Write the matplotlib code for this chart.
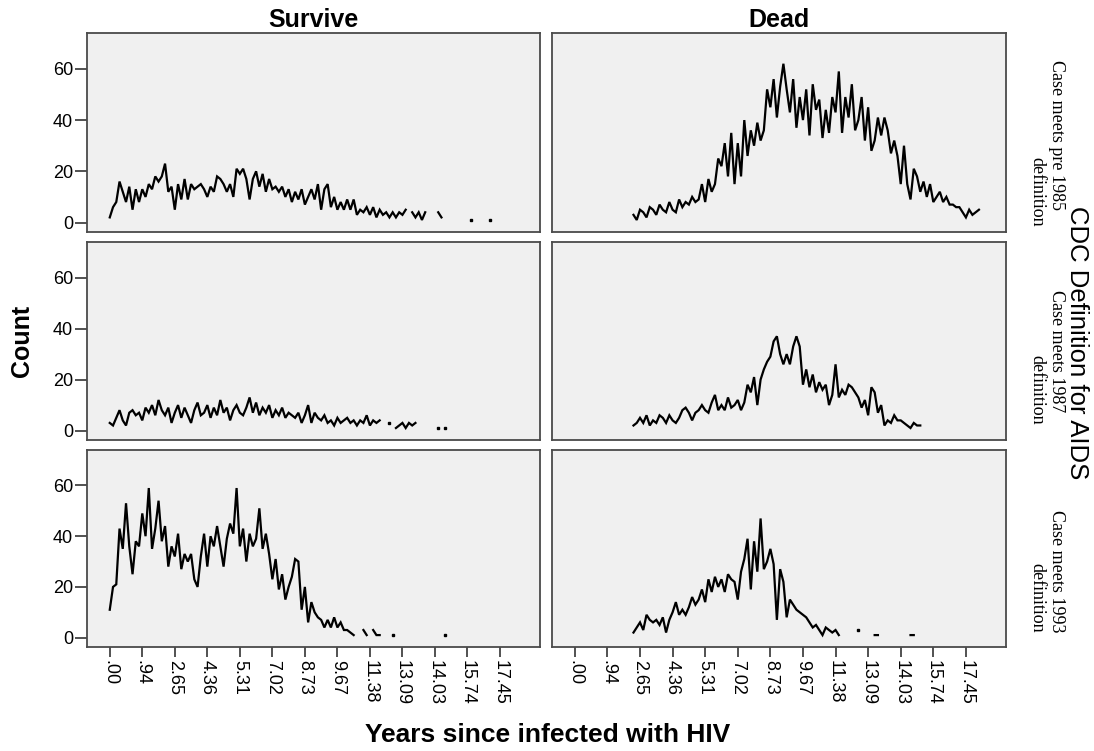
import numpy as np
import matplotlib
matplotlib.use("Agg")
import matplotlib.pyplot as plt

plt.rcParams['font.family'] = ['Liberation Sans', 'DejaVu Sans']

# Counts per category of "Years since infected with HIV" (category index), None = no cases
N = None

survive_1985_start = 0
survive_1985 = [2, 6, 8, 16, 12, 8, 14, 5, 13, 8,
                13, 10, 15, 13, 18, 16, 18, 23, 12, 14,
                5, 15, 9, 17, 9, 15, 13, 14, 15, 13,
                10, 14, 12, 18, 17, 15, 12, 15, 10, 21,
                19, 21, 17, 9, 17, 20, 14, 19, 12, 17,
                13, 14, 12, 14, 10, 13, 8, 12, 9, 13,
                7, 10, 13, 9, 15, 5, 13, 15, 6, 10,
                5, 8, 5, 9, 5, 9, 3, 5, 4, 6,
                3, 6, 2, 5, 3, 4, 2, 4, 2, 4,
                3, 5, N, 4, 2, 4, 1, 4, N, N,
                N, 4, 2, N, N, N, N, N, N, N,
                N, 1, N, N, N, N, N, 1]

dead_1985_start = 18
dead_1985 = [3, 1, 5, 4, 2, 6, 5, 3, 7, 5,
             4, 8, 5, 4, 9, 6, 8, 7, 10, 8,
             9, 15, 8, 17, 12, 15, 25, 22, 31, 18,
             35, 15, 31, 18, 40, 26, 36, 30, 39, 32,
             36, 52, 45, 56, 41, 53, 62, 52, 43, 56,
             37, 49, 40, 52, 34, 54, 44, 48, 33, 44,
             35, 49, 43, 59, 35, 49, 41, 54, 36, 40,
             49, 32, 45, 28, 32, 41, 34, 41, 36, 27,
             32, 26, 15, 30, 15, 9, 21, 18, 12, 16,
             10, 15, 8, 10, 12, 8, 10, 7, 7, 6,
             6, 4, 2, 5, 3, 4, 5]

survive_1987_start = 0
survive_1987 = [3, 2, 5, 8, 4, 2, 7, 8, 6, 7,
                4, 9, 7, 10, 6, 12, 8, 6, 9, 3,
                7, 10, 5, 9, 6, 3, 8, 11, 6, 7,
                10, 5, 9, 6, 12, 7, 9, 4, 8, 10,
                7, 6, 9, 13, 7, 11, 6, 9, 7, 10,
                5, 8, 6, 9, 5, 7, 6, 5, 7, 3,
                6, 10, 3, 7, 5, 4, 6, 3, 4, 2,
                5, 3, 4, 5, 3, 4, 2, 4, 3, 6,
                2, 4, 3, 4, N, N, 3, N, 1, 2,
                3, 1, 3, 2, 3, N, N, N, N, N,
                N, 1, N, 1]

dead_1987_start = 18
dead_1987 = [2, 3, 5, 3, 6, 2, 4, 3, 6, 5,
             3, 6, 4, 3, 5, 8, 9, 7, 4, 7,
             8, 10, 8, 7, 11, 14, 8, 10, 8, 13,
             9, 10, 12, 8, 11, 18, 15, 21, 10, 20,
             24, 27, 29, 35, 37, 30, 26, 30, 26, 33,
             37, 33, 18, 24, 17, 22, 15, 19, 16, 18,
             10, 14, 26, 13, 16, 14, 18, 17, 15, 13,
             9, 12, 6, 17, 15, 7, 10, 2, 4, 3,
             6, 4, 4, 3, 2, 1, 3, 2, 2]

survive_1993_start = 0
survive_1993 = [11, 20, 21, 43, 35, 53, 36, 25, 38, 36,
                49, 40, 59, 35, 43, 54, 38, 44, 28, 36,
                32, 41, 27, 33, 30, 33, 23, 20, 32, 41,
                28, 40, 36, 44, 36, 28, 39, 45, 41, 59,
                36, 43, 30, 41, 36, 39, 51, 35, 41, 33,
                23, 31, 19, 25, 15, 20, 24, 31, 30, 11,
                20, 6, 14, 10, 8, 7, 4, 7, 4, 8,
                4, 6, 3, 3, 2, 1, N, N, 3, 1,
                N, 3, 1, 1, N, N, N, 1, N, N,
                N, N, N, N, N, N, N, N, N, N,
                N, N, N, 1]

dead_1993_start = 18
dead_1993 = [2, 4, 6, 3, 9, 7, 6, 7, 5, 8,
             2, 7, 10, 14, 9, 11, 9, 12, 16, 13,
             15, 19, 14, 23, 18, 24, 20, 23, 18, 25,
             23, 22, 15, 26, 31, 39, 19, 38, 26, 47,
             27, 30, 35, 29, 7, 27, 22, 8, 15, 13,
             11, 10, 9, 8, 6, 4, 5, 3, 1, 4,
             3, 2, 3, 1, N, N, N, N, N, 3,
             N, N, N, N, 1, 1, N, N, N, N,
             N, N, N, N, N, 1, 1]

tick_labels = [".00", ".94", "2.65", "4.36", "5.31", "7.02", "8.73",
               "9.67", "11.38", "13.09", "14.03", "15.74", "17.45"]
tick_step = 10

columns = ["Survive", "Dead"]
rows = [("Case meets pre 1985", "definition"),
        ("Case meets 1987", "definition"),
        ("Case meets 1993", "definition")]
panels = [[(survive_1985_start, survive_1985), (dead_1985_start, dead_1985)],
          [(survive_1987_start, survive_1987), (dead_1987_start, dead_1987)],
          [(survive_1993_start, survive_1993), (dead_1993_start, dead_1993)]]

W, H = 1094, 751
fig = plt.figure(figsize=(W / 100, H / 100), dpi=100)


def fx(x):
    return x / W


def fy(y):
    return 1 - y / H


col_x = [(87, 540), (552, 1006)]
row_y = [(33, 232), (242, 440), (450, 647)]

for r in range(3):
    for c in range(2):
        x0, x1 = col_x[c]
        y0, y1 = row_y[r]
        ax = fig.add_axes([fx(x0), fy(y1), fx(x1 - x0), (y1 - y0) / H])
        ax.set_facecolor("#f0f0f0")
        start, vals = panels[r][c]
        y = np.array([np.nan if v is None else v for v in vals], dtype=float)
        x = np.arange(start, start + len(y))
        ax.plot(x, y, color="black", lw=1.6, solid_joinstyle="miter")
        # isolated values (no neighbours) drawn as small dots
        prev = np.concatenate([[np.nan], y[:-1]])
        nxt = np.concatenate([y[1:], [np.nan]])
        iso = ~np.isnan(y) & np.isnan(prev) & np.isnan(nxt)
        ax.plot(x[iso], y[iso], "s", color="black", ms=1.8)

        ax.set_xlim(-7, 132.3)
        ax.set_ylim(-3.7, 74)
        for s in ax.spines.values():
            s.set_color("#4a4a4a")
            s.set_linewidth(1.3)

        if c == 0:
            ax.set_yticks([0, 20, 40, 60])
            ax.tick_params(axis="y", direction="out", length=9, width=1.2,
                           color="#333333", labelsize=13, pad=1)
        else:
            ax.set_yticks([])
        if r == 2:
            ax.set_xticks(np.arange(len(tick_labels)) * tick_step)
            ax.set_xticklabels(tick_labels, rotation=-90)
            ax.tick_params(axis="x", direction="out", length=7, width=1.2,
                           color="#333333", labelsize=13, pad=2)
        else:
            ax.set_xticks([])

# column titles
for c, name in enumerate(columns):
    xc = (col_x[c][0] + col_x[c][1]) / 2
    fig.text(fx(xc), fy(20), name, ha="center", va="center",
             fontsize=18, fontweight="bold")

fig.text(fx(22), fy(341), "Count", rotation=90, ha="center", va="center",
         fontsize=18, fontweight="bold")
fig.text(fx(548), fy(735), "Years since infected with HIV", ha="center",
         va="center", fontsize=19, fontweight="bold")
fig.text(fx(1077), fy(343), "CDC Definition for AIDS", rotation=-90,
         ha="center", va="center", fontsize=18.5)

# row labels (end of each rotated line)
row_ends = [(210, 227), (412, 425), (633, 633)]
for r, (l1, l2) in enumerate(rows):
    e1, e2 = row_ends[r]
    fig.text(fx(1057), fy(e1), l1, rotation=-90, ha="center", va="bottom",
             fontsize=13, family="Liberation Serif")
    fig.text(fx(1037), fy(e2), l2, rotation=-90, ha="center", va="bottom",
             fontsize=13, family="Liberation Serif")

fig.savefig("out.png", dpi=100, facecolor="white")
